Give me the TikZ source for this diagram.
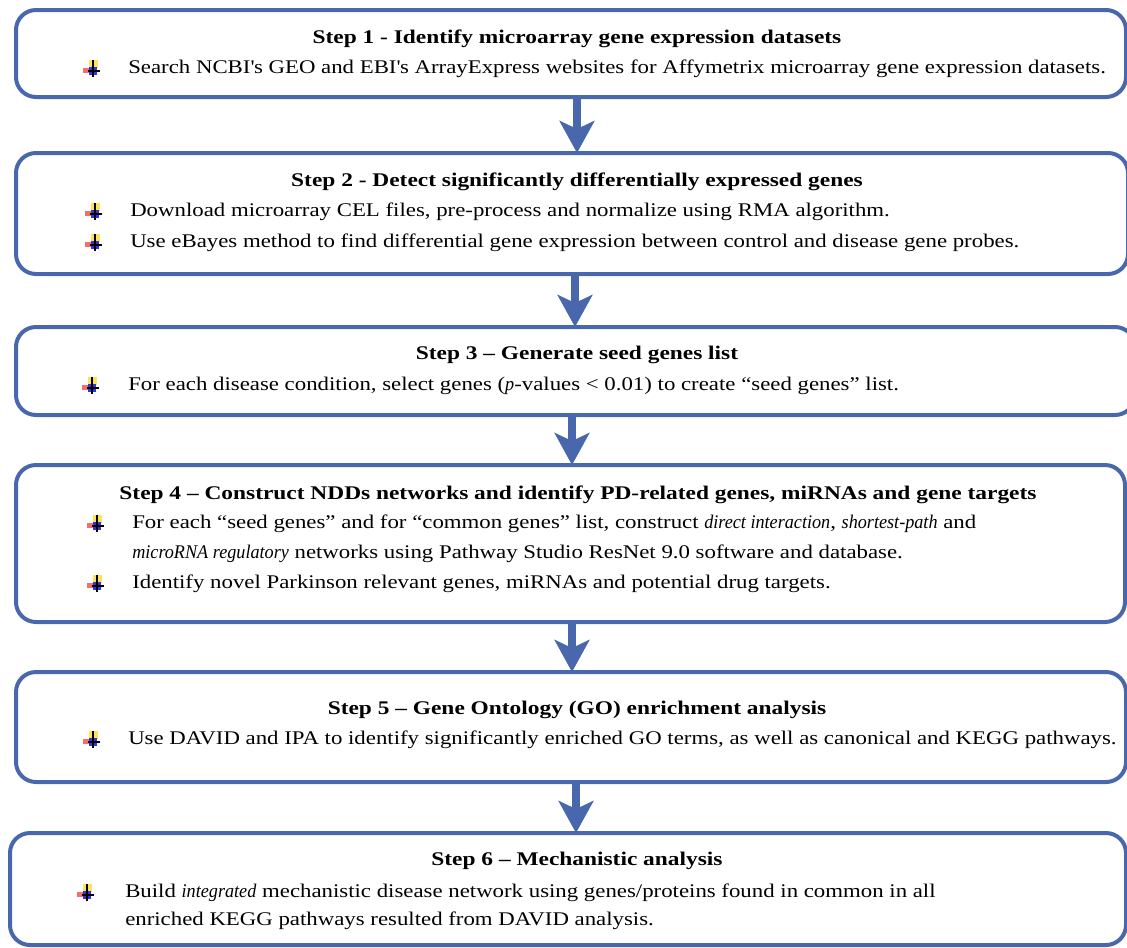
\documentclass[tikz,border=0pt]{standalone}
\usepackage{fontspec}
\setmainfont{Liberation Serif}[FakeStretch=1.18, BoldFeatures={FakeStretch=1.21}, ItalicFeatures={FakeStretch=0.94}]
\usetikzlibrary{arrows.meta,fit}
\definecolor{boxblue}{RGB}{72,103,172}
\definecolor{bulyel}{RGB}{255,225,90}
\definecolor{bulred}{RGB}{245,110,110}
\definecolor{bulblu}{RGB}{50,50,225}
\begin{document}
\begin{tikzpicture}[x=0.75pt,y=-0.75pt,
  stepbox/.style={draw=boxblue, line width=3pt, rounded corners=15pt, inner sep=0pt, outer sep=0pt},
  ttl/.style={font=\fontsize{14.5}{17}\selectfont\bfseries, anchor=center, inner sep=0pt, text height=0.75em, text depth=0.25em},
  txt/.style={font=\fontsize{14.5}{17}\selectfont, anchor=west, inner sep=0pt, text height=0.75em, text depth=0.25em},
  bigarrow/.style={draw=boxblue, line width=6pt, -{Stealth[length=24pt,width=26pt,inset=6pt]}},
  bulletpic/.pic={
    \fill[bulyel] (-4,-8) rectangle (5,0);
    \fill[bulred] (-10,0) rectangle (-1,5);
    \fill[bulblu] (-4,-1) rectangle (4,7);
    \draw[black, line width=1pt] (0,-8) -- (0,9);
    \draw[black, line width=1pt] (-5,3) -- (7,3);
  }]
\useasboundingbox (0,0) rectangle (1127,947);

% boxes
\node[stepbox, fit={(16,10) (1126,97)}] (b1) {};
\node[stepbox, fit={(16,153) (1128,274)}] (b2) {};
\node[stepbox, fit={(16,327) (1135,415)}] (b3) {};
\node[stepbox, fit={(16,465) (1125,622)}] (b4) {};
\node[stepbox, fit={(16,672) (1126,782)}] (b5) {};
\node[stepbox, fit={(10,833) (1126,945)}] (b6) {};

% arrows
\coordinate (a1) at (577,0);
\coordinate (a2) at (575,0);
\coordinate (a3) at (572,0);
\coordinate (a4) at (572,0);
\coordinate (a5) at (576,0);
\draw[bigarrow] (b1.south -| a1) -- (b2.north -| a1);
\draw[bigarrow] (b2.south -| a2) -- (b3.north -| a2);
\draw[bigarrow] (b3.south -| a3) -- (b4.north -| a3);
\draw[bigarrow] (b4.south -| a4) -- (b5.north -| a4);
\draw[bigarrow] (b5.south -| a5) -- (b6.north -| a5);

% Step 1
\node[ttl] (t1) at (577,40) {Step 1 - Identify microarray gene expression datasets};
\pic at (93,68) {bulletpic};
\node[txt] (l11) at (128,70) {Search NCBI\textquotesingle s GEO and EBI\textquotesingle s ArrayExpress websites for Affymetrix microarray gene expression datasets.};

% Step 2
\node[ttl] (t2) at (577,183) {Step 2 - Detect significantly differentially expressed genes};
\pic at (95,211) {bulletpic};
\node[txt] (l21) at (130,213) {Download microarray CEL files, pre-process and normalize using RMA algorithm.};
\pic at (95,242) {bulletpic};
\node[txt] (l22) at (130,244) {Use eBayes method to find differential gene expression between control and disease gene probes.};

% Step 3
\node[ttl] (t3) at (577,356) {Step 3 – Generate seed genes list};
\pic at (92,385) {bulletpic};
\node[txt] (l31) at (128,387) {For each disease condition, select genes (\textit{p}-values < 0.01) to create “seed genes” list.};

% Step 4
\node[ttl] (t4) at (578,496) {Step 4 – Construct NDDs networks and identify PD-related genes, miRNAs and gene targets};
\pic at (97,523) {bulletpic};
\node[txt] (l41) at (132,525) {For each “seed genes” and for “common genes” list, construct \textit{direct interaction}, \textit{shortest-path} and};
\node[txt] (l42) at (132,555) {\textit{microRNA regulatory} networks using Pathway Studio ResNet 9.0 software and database.};
\pic at (97,583) {bulletpic};
\node[txt] (l43) at (132,585) {Identify novel Parkinson relevant genes, miRNAs and potential drug targets.};

% Step 5
\node[ttl] (t5) at (577,711) {Step 5 – Gene Ontology (GO) enrichment analysis};
\pic at (93,739) {bulletpic};
\node[txt] (l51) at (128,741) {Use DAVID and IPA to identify significantly enriched GO terms, as well as canonical and KEGG pathways.};

% Step 6
\node[ttl] (t6) at (577,862) {Step 6 – Mechanistic analysis};
\pic at (87,892) {bulletpic};
\node[txt] (l61) at (125,894) {Build \textit{integrated} mechanistic disease network using genes/proteins found in common in all};
\node[txt] (l62) at (125,922) {enriched KEGG pathways resulted from DAVID analysis.};
\end{tikzpicture}
\end{document}
